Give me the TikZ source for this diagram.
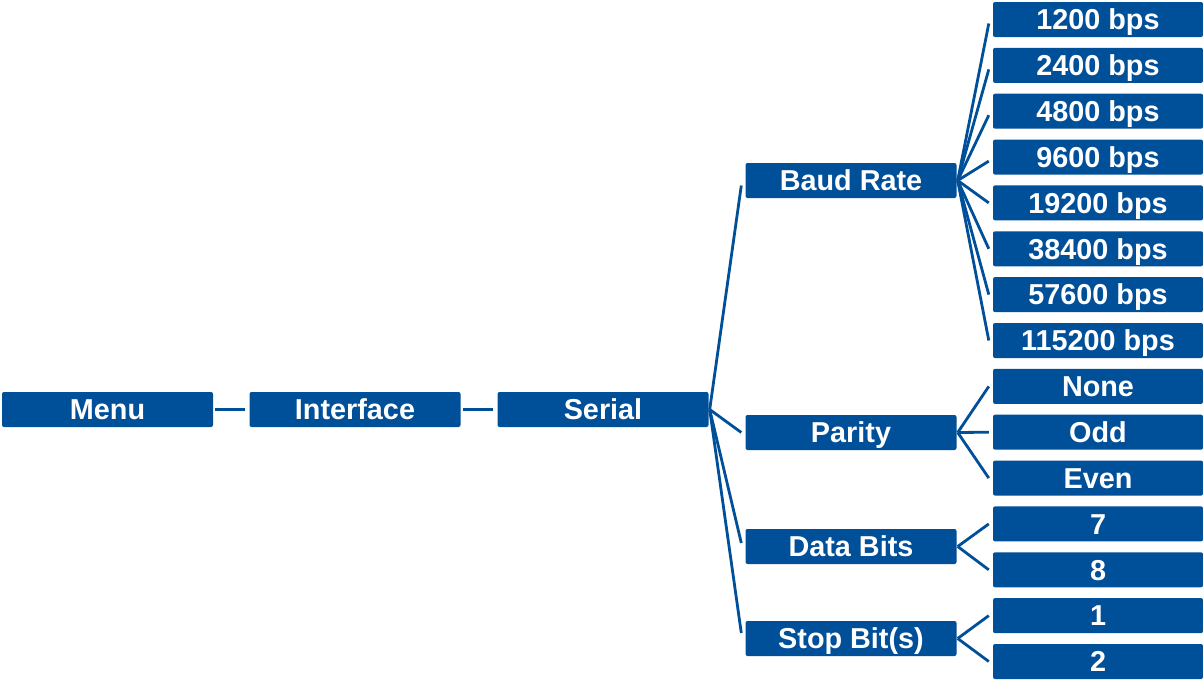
\documentclass[tikz,border=0pt]{standalone}
\usepackage{fontspec}
\setmainfont{Liberation Sans}
\usetikzlibrary{calc}
\definecolor{zblue}{RGB}{0,79,153}
\tikzset{
  box/.style={draw=none, fill=zblue, rounded corners=2pt, text=white,
    font=\fontsize{28.8}{30}\selectfont\bfseries,
    minimum width=211pt, minimum height=35pt, inner sep=0pt,
    text height=20.6pt, text depth=0pt},
  leaf/.style={box, minimum width=210pt},
  conn/.style={draw=zblue, line width=2.8pt},
}
\begin{document}
\begin{tikzpicture}[x=1pt,y=1pt]
\useasboundingbox (0,0) rectangle (1203,-680);
\node[box] (menu) at (107.5,-409.5) {Menu};
\node[box] (iface) at (355,-409.5) {Interface};
\node[box] (serial) at (603,-409.5) {Serial};
\node[box] (baud) at (851,-180.5) {Baud Rate};
\node[box] (parity) at (851,-432.5) {Parity};
\node[box] (data) at (851,-546.5) {Data Bits};
\node[box] (stop) at (851,-638.5) {Stop Bit(s)};
\node[leaf] (b1) at (1098,-19.5) {1200 bps};
\node[leaf] (b2) at (1098,-65.4) {2400 bps};
\node[leaf] (b3) at (1098,-111.2) {4800 bps};
\node[leaf] (b4) at (1098,-157.1) {9600 bps};
\node[leaf] (b5) at (1098,-202.9) {19200 bps};
\node[leaf] (b6) at (1098,-248.8) {38400 bps};
\node[leaf] (b7) at (1098,-294.6) {57600 bps};
\node[leaf] (b8) at (1098,-340.5) {115200 bps};
\node[leaf] (pn) at (1098,-386.4) {None};
\node[leaf] (po) at (1098,-432.2) {Odd};
\node[leaf] (pe) at (1098,-478.1) {Even};
\node[leaf] (d7) at (1098,-523.9) {7};
\node[leaf] (d8) at (1098,-569.8) {8};
\node[leaf] (s1) at (1098,-615.6) {1};
\node[leaf] (s2) at (1098,-661.5) {2};

\draw[conn] ($(menu.east)+(2,0)$) -- ($(iface.west)+(-4,0)$);
\draw[conn] ($(iface.east)+(2,0)$) -- ($(serial.west)+(-4,0)$);

\coordinate (so) at ($(serial.east)+(1,0)$);
\draw[conn] (so) -- ($(baud.west)+(-4,-5)$);
\draw[conn] (so) -- ($(parity.west)+(-4,0)$);
\draw[conn] (so) -- ($(data.west)+(-4,3.5)$);
\draw[conn] (so) -- ($(stop.west)+(-4,5.5)$);

\coordinate (bo) at ($(baud.east)+(1,0)$);
\draw[conn] (bo) -- ($(b1.west)+(-4,-4)$);
\draw[conn] (bo) -- ($(b2.west)+(-4,-4)$);
\draw[conn] (bo) -- ($(b3.west)+(-4,-4)$);
\draw[conn] (bo) -- ($(b4.west)+(-4,-4)$);
\draw[conn] (bo) -- ($(b5.west)+(-4,0)$);
\draw[conn] (bo) -- ($(b6.west)+(-4,0)$);
\draw[conn] (bo) -- ($(b7.west)+(-4,0)$);
\draw[conn] (bo) -- ($(b8.west)+(-4,0)$);

\coordinate (po0) at ($(parity.east)+(1,0)$);
\draw[conn] (po0) -- ($(pn.west)+(-4,0)$);
\draw[conn] (po0) -- ($(po.west)+(-4,0)$);
\draw[conn] (po0) -- ($(pe.west)+(-4,0)$);

\coordinate (do) at ($(data.east)+(1,0)$);
\draw[conn] (do) -- ($(d7.west)+(-4,0)$);
\draw[conn] (do) -- ($(d8.west)+(-4,0)$);

\coordinate (sto) at ($(stop.east)+(1,0)$);
\draw[conn] (sto) -- ($(s1.west)+(-4,0)$);
\draw[conn] (sto) -- ($(s2.west)+(-4,0)$);
\end{tikzpicture}
\end{document}
